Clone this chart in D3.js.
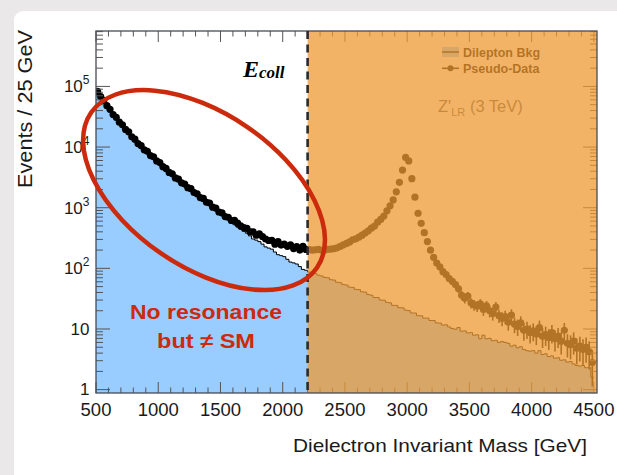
<!DOCTYPE html>
<html lang="en">
<head>
<meta charset="UTF-8" />
<title>Dielectron invariant mass</title>
<script src="https://d3js.org/d3.v7.min.js"></script>
<style>
    body { margin: 0; background: #ebe8ea; }
    svg { display: block; font-family: "Liberation Sans", Arial, Helvetica, sans-serif; }
</style>
</head>
<body>
<script>
    // 25 GeV bins starting at 500 GeV, split at the 2.2 TeV cut
    var binStart = 500;
    var binWidth = 25;
    var cutMass = 2200;

    var bkgBelowCut = [
        81000, 68500, 57000, 48500, 40800, 34700, 29800, 26000, 22600, 19700,
        17200, 14900, 13000, 11500, 10200, 9100, 8200, 7300, 6650, 5950,
        5350, 4780, 4300, 3840, 3500, 3120, 2840, 2590, 2360, 2150,
        1960, 1790, 1630, 1480, 1350, 1230, 1120, 1020, 912, 832,
        759, 692, 631, 575, 525, 479, 442, 407, 380, 343,
        305, 292, 276, 251, 226, 216, 207, 186, 168, 162,
        156, 141, 127, 123, 118, 107, 96, 93
    ];
    var bkgAboveCut = [
        87, 84, 82, 77, 75, 71, 70, 65, 64, 59,
        58, 54, 53, 49, 48.5, 45, 44.5, 41, 40.5, 37,
        36, 33, 33, 30, 29.8, 27.5, 27, 24.5, 24.5, 22.4,
        22.3, 20.5, 20.1, 18.4, 18.3, 16.6, 16.5, 15.1, 15.1, 13.8,
        13.8, 12.6, 12.5, 11.6, 11.7, 10.8, 10.2, 9.9, 10.6, 9.2,
        9.3, 8.6, 8.7, 7.9, 8.0, 6.9, 7.9, 6.9, 7.0, 6.4,
        6.5, 6.0, 6.2, 6.0, 5.8, 5.2, 5.4, 4.9, 5.1, 4.6,
        4.4, 4.3, 4.4, 4.0, 4.4, 3.8, 3.9, 3.5, 3.6, 3.3,
        3.35, 3.05, 3.1, 2.85, 2.9, 2.65, 2.5, 2.45, 2.5, 2.3,
        2.3, 1.6
    ];
    var dataBelowCut = [
        83000, 68000, 58800, 48200, 41900, 34400, 30900, 25700, 23300, 19500,
        17800, 14800, 13500, 11400, 10600, 9000, 8500, 7250, 6900, 5900,
        5550, 4750, 4450, 3820, 3620, 3100, 2950, 2570, 2450, 2140,
        2060, 1780, 1700, 1470, 1420, 1230, 1190, 1020, 985, 850,
        820, 715, 695, 615, 620, 555, 500, 470, 455, 400,
        398, 352, 372, 335, 305, 288, 290, 250, 275, 242,
        250, 231, 245, 212, 228, 200, 230, 205
    ];
    var dataAboveCut = [
        204, 199, 202, 205, 198, 201, 206, 208, 211, 218,
        230, 244, 258, 273, 296, 307, 326, 352, 382, 415,
        459, 498, 578, 642, 728, 888, 1075, 1345, 1830, 2620,
        4180, 6750, 5900, 3010, 1490, 810, 552, 388, 276, 199,
        152, 122, 106, 88, 79, 68, 61, 54, 46, 36,
        32, 35, 27, 25, 24, 26, 21, 24, 20, 18,
        23, 16.6, 15, 16, 13, 17, 12, 11, 12.6, 9.5,
        10, 8.7, 9.3, 8.3, 10.5, 7.6, 8.1, 7.2, 8.7, 6.9,
        7.6, 6.3, 9.5, 5.8, 5.5, 6.3, 4.8, 5.2, 4.6, 5.0,
        4.2, 2.8
    ];

    var xTicks = [500, 1000, 1500, 2000, 2500, 3000, 3500, 4000, 4500];
    var yTicks = [1, 10, 100, 1000, 10000, 100000];
    var yTickLabels = [["1", ""], ["10", ""], ["10", "2"], ["10", "3"], ["10", "4"], ["10", "5"]];

    var w = 617;
    var h = 475;
    var pL = 96, pR = 597, pT = 31, pB = 393;

    var bkg = bkgBelowCut.concat(bkgAboveCut);
    var obs = dataBelowCut.concat(dataAboveCut);
    var bins = bkg.map(function(v, i){
        return {lo: binStart + i * binWidth, mid: binStart + (i + 0.5) * binWidth, bkg: v, obs: obs[i]};
    });
    var binEnd = binStart + bins.length * binWidth;

    var x = d3.scaleLinear().domain([500, 4525]).range([pL, pR]);
    var y = d3.scaleLog().domain([0.88, 8.2e5]).range([pB, pT]);

    var svg = d3.select("body")
                .append("svg")
                .attr("width", w)
                .attr("height", h);

    // white slide panel
    svg.append("rect").attr("x", 14).attr("y", 11).attr("width", 640).attr("height", 500)
        .attr("rx", 9).attr("fill", "#ffffff");

    svg.append("clipPath").attr("id", "plot")
        .append("rect").attr("x", pL).attr("y", pT)
        .attr("width", pR - pL).attr("height", pB - pT);

    var plot = svg.append("g").attr("clip-path", "url(#plot)");

    // background histogram
    var steps = bins.map(function(d){ return [d.lo, d.bkg]; });
    steps.push([binEnd, bins[bins.length - 1].bkg]);

    plot.append("path")
        .datum(steps)
        .attr("fill", "#99ccff")
        .attr("d", d3.area()
            .curve(d3.curveStepAfter)
            .x(function(d){ return x(d[0]); })
            .y0(pB)
            .y1(function(d){ return y(d[1]); }));

    plot.append("path")
        .datum(steps)
        .attr("fill", "none")
        .attr("stroke", "#000")
        .attr("stroke-width", 1)
        .attr("d", d3.line()
            .curve(d3.curveStepAfter)
            .x(function(d){ return x(d[0]); })
            .y(function(d){ return y(d[1]); }));

    // pseudo-data with poisson error bars
    plot.selectAll(".err")
        .data(bins)
        .enter()
        .append("line")
        .attr("x1", function(d){ return x(d.mid); })
        .attr("x2", function(d){ return x(d.mid); })
        .attr("y1", function(d){ return y(d.obs + Math.sqrt(d.obs)); })
        .attr("y2", function(d){ return y(Math.max(0.5, d.obs - Math.sqrt(d.obs))); })
        .attr("stroke", "#000")
        .attr("stroke-width", 1.6);

    plot.selectAll(".pt")
        .data(bins)
        .enter()
        .append("circle")
        .attr("cx", function(d){ return x(d.mid); })
        .attr("cy", function(d){ return y(d.obs); })
        .attr("r", 3.6)
        .attr("fill", "#000");

    // legend
    svg.append("rect").attr("x", 442).attr("y", 47).attr("width", 17).attr("height", 10).attr("fill", "#99ccff");
    svg.append("line").attr("x1", 442).attr("x2", 459).attr("y1", 52).attr("y2", 52).attr("stroke", "#000").attr("stroke-width", 1.5);
    svg.append("line").attr("x1", 442).attr("x2", 459).attr("y1", 68.3).attr("y2", 68.3).attr("stroke", "#000").attr("stroke-width", 1.6);
    svg.append("circle").attr("cx", 450.5).attr("cy", 68.3).attr("r", 3).attr("fill", "#000");
    svg.append("text").attr("x", 463).attr("y", 56.5).attr("font-size", 12.5).attr("font-weight", "bold")
        .attr("fill", "#000").text("Dilepton Bkg");
    svg.append("text").attr("x", 463).attr("y", 72.5).attr("font-size", 12.5).attr("font-weight", "bold")
        .attr("fill", "#000").text("Pseudo-Data");

    var zl = svg.append("text").attr("x", 438).attr("y", 112).attr("font-size", 16.5).attr("fill", "#5a5a5a");
    zl.append("tspan").text("Z'");
    zl.append("tspan").attr("font-size", 11).attr("dy", 4).text("LR");
    zl.append("tspan").attr("dy", -4).text(" (3 TeV)");

    // ticks on all four sides
    var xMinor = d3.range(500, 4526, 100).filter(function(d){ return d % 500 != 0; });
    var yMinor = [];
    yTicks.forEach(function(p){
        for (var k = 2; k <= 9; k++) {
            if (k * p < 8.2e5) yMinor.push(k * p);
        }
    });

    var ticks = svg.append("g").attr("stroke", "#555").attr("stroke-width", 1);
    [[xTicks, 11], [xMinor, 5.5]].forEach(function(t){
        ticks.selectAll(null).data(t[0]).enter().append("line")
            .attr("x1", function(d){ return x(d); }).attr("x2", function(d){ return x(d); })
            .attr("y1", pB).attr("y2", pB - t[1]);
        ticks.selectAll(null).data(t[0]).enter().append("line")
            .attr("x1", function(d){ return x(d); }).attr("x2", function(d){ return x(d); })
            .attr("y1", pT).attr("y2", pT + t[1]);
    });
    [[yTicks, 14], [yMinor, 7]].forEach(function(t){
        ticks.selectAll(null).data(t[0]).enter().append("line")
            .attr("y1", function(d){ return y(d); }).attr("y2", function(d){ return y(d); })
            .attr("x1", pL).attr("x2", pL + t[1]);
        ticks.selectAll(null).data(t[0]).enter().append("line")
            .attr("y1", function(d){ return y(d); }).attr("y2", function(d){ return y(d); })
            .attr("x1", pR).attr("x2", pR - t[1]);
    });

    // E_coll label in the region below the cut
    var ec = svg.append("text").attr("x", 243).attr("y", 77)
        .attr("font-family", "'Liberation Serif', 'Times New Roman', serif")
        .attr("font-weight", "bold").attr("font-style", "italic").attr("fill", "#000");
    ec.append("tspan").attr("font-size", 24).text("E");
    ec.append("tspan").attr("font-size", 17).attr("dy", 0.5).text("coll");

    // orange veil above the cut
    svg.append("rect")
        .attr("x", x(cutMass)).attr("y", pT)
        .attr("width", pR - x(cutMass)).attr("height", pB - pT)
        .attr("fill", "rgb(238,154,51)")
        .attr("opacity", 0.75);

    svg.append("rect")
        .attr("x", pL).attr("y", pT)
        .attr("width", pR - pL).attr("height", pB - pT)
        .attr("fill", "none").attr("stroke", "#474c55").attr("stroke-width", 1.3);

    svg.append("line")
        .attr("x1", x(cutMass)).attr("x2", x(cutMass))
        .attr("y1", pT).attr("y2", pB)
        .attr("stroke", "#2b2b2b").attr("stroke-width", 2.6)
        .attr("stroke-dasharray", "8,5.5");

    // tick labels
    svg.selectAll(".xlab")
        .data(xTicks)
        .enter()
        .append("text")
        .attr("x", function(d){ return x(d); })
        .attr("y", 415.5)
        .attr("text-anchor", "middle")
        .attr("font-size", 18.5)
        .attr("fill", "#1a1a1a")
        .text(function(d){ return d; });

    svg.selectAll(".ylab")
        .data(yTicks)
        .enter()
        .append("text")
        .attr("x", 89.5)
        .attr("y", function(d){ return y(d) + 5.8; })
        .attr("text-anchor", "end")
        .attr("font-size", 17)
        .attr("fill", "#1a1a1a")
        .each(function(d, i){
            var t = d3.select(this);
            t.append("tspan").text(yTickLabels[i][0]);
            if (yTickLabels[i][1]) {
                t.append("tspan").attr("font-size", 12).attr("dy", -8).text(yTickLabels[i][1]);
            }
        });

    // axis titles
    svg.append("text")
        .attr("x", 293).attr("y", 451.5)
        .attr("font-size", 19).attr("fill", "#1a1a1a")
        .attr("textLength", 294).attr("lengthAdjust", "spacingAndGlyphs")
        .text("Dielectron Invariant Mass [GeV]");

    svg.append("text")
        .attr("transform", "translate(32,188) rotate(-90)")
        .attr("font-size", 20).attr("fill", "#1a1a1a")
        .attr("textLength", 158).attr("lengthAdjust", "spacingAndGlyphs")
        .text("Events / 25 GeV");

    // red annotation
    var red = "#cc2a0c";
    svg.append("ellipse")
        .attr("cx", x(1368)).attr("cy", y(1950))
        .attr("rx", 137).attr("ry", 76.5)
        .attr("transform", "rotate(34.5," + x(1368) + "," + y(1950) + ")")
        .attr("fill", "none").attr("stroke", red).attr("stroke-width", 4.5);

    svg.append("text").attr("x", 130).attr("y", 319)
        .attr("font-size", 20.5).attr("font-weight", "bold").attr("fill", red)
        .attr("textLength", 152).attr("lengthAdjust", "spacingAndGlyphs")
        .text("No resonance");
    svg.append("text").attr("x", 157).attr("y", 348)
        .attr("font-size", 20.5).attr("font-weight", "bold").attr("fill", red)
        .attr("textLength", 98).attr("lengthAdjust", "spacingAndGlyphs")
        .text("but \u2260 SM");
</script>
</body>
</html>
